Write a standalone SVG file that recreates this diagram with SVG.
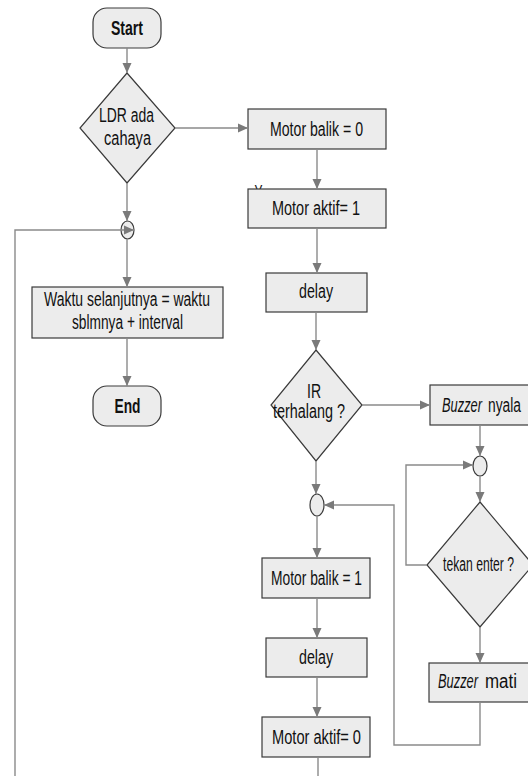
<svg xmlns="http://www.w3.org/2000/svg" width="528" height="776" viewBox="0 0 528 776">
<defs>
<marker id="ah" markerUnits="userSpaceOnUse" markerWidth="10" markerHeight="10" viewBox="0 0 10 10" refX="10" refY="5" orient="auto">
<path d="M0,0.5 L10,5 L0,9.5 Z" fill="#7a7a7a"/>
</marker>
<style>
.sh{fill:#ececec;stroke:#3a3a3a;stroke-width:1.2}
.cn{fill:none;stroke:#8a8a8a;stroke-width:1.4}
.ca{fill:none;stroke:#8a8a8a;stroke-width:1.4;marker-end:url(#ah)}
text{font-family:"Liberation Sans Narrow","Liberation Sans",Arial,sans-serif;font-size:20px;fill:#111;text-anchor:middle}
.b{font-weight:bold}
.i{font-style:italic}
.s{text-anchor:start}
</style>
</defs>
<rect width="528" height="776" fill="#ffffff"/>
<text x="258.5" y="199" textLength="8" lengthAdjust="spacingAndGlyphs">Y</text>
<g id="start"><rect class="sh" x="93" y="8" width="68" height="40" rx="14"/><text class="b" x="127" y="35" textLength="32" lengthAdjust="spacingAndGlyphs">Start</text></g>
<g id="ldr"><polygon class="sh" points="127,73 175,128 127,183 80,128"/><text x="126.5" y="122" textLength="55" lengthAdjust="spacingAndGlyphs">LDR ada</text><text x="127.5" y="145" textLength="47" lengthAdjust="spacingAndGlyphs">cahaya</text></g>
<g id="c1"><ellipse class="sh" cx="127.5" cy="230" rx="6.5" ry="9"/></g>
<g id="waktu"><rect class="sh" x="32" y="287" width="191" height="51"/><text x="127" y="306" textLength="166" lengthAdjust="spacingAndGlyphs">Waktu selanjutnya = waktu</text><text x="127.5" y="329" textLength="111" lengthAdjust="spacingAndGlyphs">sblmnya + interval</text></g>
<g id="end"><rect class="sh" x="93" y="386" width="68" height="40" rx="14"/><text class="b" x="127.5" y="413" textLength="26" lengthAdjust="spacingAndGlyphs">End</text></g>
<g id="mb0"><rect class="sh" x="248" y="109" width="138" height="40"/><text x="316.5" y="136" textLength="93" lengthAdjust="spacingAndGlyphs">Motor balik = 0</text></g>
<g id="ma1"><rect class="sh" x="248" y="189" width="138" height="39"/><text x="316" y="215" textLength="88" lengthAdjust="spacingAndGlyphs">Motor aktif= 1</text></g>
<g id="delay1"><rect class="sh" x="266" y="273" width="101" height="39"/><text x="316" y="298" textLength="34" lengthAdjust="spacingAndGlyphs">delay</text></g>
<g id="ir"><polygon class="sh" points="316,350 362,405 316,461 271,405"/><text x="314" y="398" textLength="14" lengthAdjust="spacingAndGlyphs">IR</text><text x="309" y="418" textLength="72" lengthAdjust="spacingAndGlyphs">terhalang ?</text></g>
<g id="bnyala"><rect class="sh" x="430" y="385" width="100" height="40"/><text class="i s" x="442" y="412" textLength="40" lengthAdjust="spacingAndGlyphs">Buzzer</text><text class="s" x="488" y="412" textLength="33" lengthAdjust="spacingAndGlyphs">nyala</text></g>
<g id="c3"><ellipse class="sh" cx="480" cy="466" rx="7" ry="10"/></g>
<g id="tekan"><polygon class="sh" points="480,502 533,565 480,627 427,565"/><text x="478.5" y="571" textLength="71" lengthAdjust="spacingAndGlyphs">tekan enter ?</text></g>
<g id="bmati"><rect class="sh" x="429" y="663" width="101" height="39"/><text class="i s" x="438" y="688" textLength="40" lengthAdjust="spacingAndGlyphs">Buzzer</text><text class="s" x="485" y="688" textLength="32" lengthAdjust="spacingAndGlyphs">mati</text></g>
<g id="c2"><ellipse class="sh" cx="317" cy="505" rx="7" ry="11"/></g>
<g id="mb1"><rect class="sh" x="262" y="558" width="108" height="40"/><text x="316.5" y="585" textLength="91" lengthAdjust="spacingAndGlyphs">Motor balik = 1</text></g>
<g id="delay2"><rect class="sh" x="266" y="638" width="101" height="39"/><text x="316" y="664" textLength="34" lengthAdjust="spacingAndGlyphs">delay</text></g>
<g id="ma0"><rect class="sh" x="262" y="717" width="108" height="40"/><text x="316.5" y="744" textLength="89" lengthAdjust="spacingAndGlyphs">Motor aktif= 0</text></g>
<g id="connectors">
<path class="ca" d="M127,48 V73"/>
<path class="ca" d="M175,128 H248"/>
<path class="ca" d="M127,183 V221"/>
<path class="ca" d="M127,239 V287"/>
<path class="ca" d="M127,338 V386"/>
<path class="ca" d="M15,776 V230 H134"/>
<path class="ca" d="M317,149 V189"/>
<path class="ca" d="M317,228 V273"/>
<path class="ca" d="M316,312 V350"/>
<path class="ca" d="M362,405 H430"/>
<path class="ca" d="M480,425 V456"/>
<path class="ca" d="M480,476 V502"/>
<path class="ca" d="M427,565 H406 V465 H473"/>
<path class="ca" d="M480,627 V663"/>
<path class="ca" d="M480,702 V745 H394 V505 H324"/>
<path class="ca" d="M316,461 V494"/>
<path class="ca" d="M317,516 V558"/>
<path class="ca" d="M317,598 V638"/>
<path class="ca" d="M317,677 V717"/>
<path class="cn" d="M318,757 V776"/>
</g>
</svg>
